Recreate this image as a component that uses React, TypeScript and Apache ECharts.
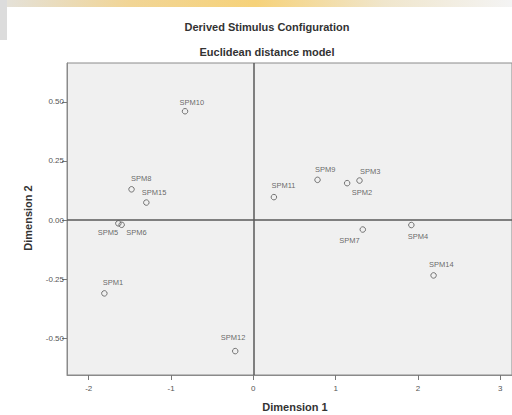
import React, { useEffect, useRef } from "react";
import * as echarts from "echarts";

const names = ["SPM10", "SPM8", "SPM15", "SPM5", "SPM6", "SPM1", "SPM12", "SPM11", "SPM9", "SPM3", "SPM2", "SPM7", "SPM4", "SPM14"];
const dim1 = [-0.83, -1.48, -1.3, -1.64, -1.6, -1.81, -0.22, 0.25, 0.78, 1.29, 1.14, 1.33, 1.92, 2.19];
const dim2 = [0.46, 0.13, 0.074, -0.014, -0.02, -0.31, -0.554, 0.097, 0.17, 0.167, 0.156, -0.04, -0.021, -0.234];
const xTicks = [-2, -1, 0, 1, 2, 3];
const yTicks = [-0.5, -0.25, 0, 0.25, 0.5];

// label offsets (px) from marker centre: [dx to label start, dy to label middle]
const labelOffsets: Record<string, [number, number]> = {
  SPM10: [-5, -8],
  SPM8: [0, -10],
  SPM15: [-4, -10],
  SPM5: [-20, 10],
  SPM6: [5, 8],
  SPM1: [-1, -10],
  SPM12: [-14, -13],
  SPM11: [-2, -11],
  SPM9: [-2, -10],
  SPM3: [1, -9],
  SPM2: [5, 10],
  SPM7: [-23, 11],
  SPM4: [-3, 12],
  SPM14: [-4, -10],
};

const FONT = "Liberation Sans, Arial, sans-serif";

export default function App() {
  const ref = useRef<HTMLDivElement>(null);
  useEffect(() => {
    if (!ref.current) return;
    const chart = echarts.init(ref.current, null, { renderer: "svg" });
    const sym = 5.5;
    const data = names.map((n, i) => {
      const o = labelOffsets[n] || [0, -10];
      return {
        name: n,
        value: [dim1[i], dim2[i]],
        label: { position: [o[0] + sym / 2, o[1] + sym / 2] },
      };
    });
    chart.setOption({
      animation: false,
      backgroundColor: "#ffffff",
      textStyle: { fontFamily: FONT },
      title: [
        {
          text: "Derived Stimulus Configuration",
          left: 267,
          top: 21,
          padding: 0,
          textAlign: "center",
          textStyle: { fontSize: 11, fontWeight: "bold", color: "#333", fontFamily: FONT },
        },
        {
          text: "Euclidean distance model",
          left: 267,
          top: 46,
          padding: 0,
          textAlign: "center",
          textStyle: { fontSize: 11, fontWeight: "bold", color: "#333", fontFamily: FONT },
        },
      ],
      graphic: [
        {
          type: "rect",
          shape: { x: 0, y: 0, width: 512, height: 7 },
          style: {
            fill: new echarts.graphic.LinearGradient(0, 0, 1, 0, [
              { offset: 0, color: "#e4e2dc" },
              { offset: 0.25, color: "#f1d596" },
              { offset: 0.5, color: "#f6d27a" },
              { offset: 0.75, color: "#f0e6cc" },
              { offset: 1, color: "#f4f4f4" },
            ]),
          },
          silent: true,
        },
        {
          type: "rect",
          shape: { x: 0, y: 0, width: 7, height: 40 },
          style: { fill: "#dcdcdc" },
          silent: true,
        },
        {
          type: "text",
          x: 28,
          y: 218,
          rotation: Math.PI / 2,
          style: {
            text: "Dimension 2",
            fontSize: 11,
            fontWeight: "bold",
            fill: "#333",
            fontFamily: FONT,
            align: "center",
            verticalAlign: "middle",
          },
        },
        {
          type: "text",
          x: 295,
          y: 407,
          style: {
            text: "Dimension 1",
            fontSize: 11,
            fontWeight: "bold",
            fill: "#333",
            fontFamily: FONT,
            align: "center",
            verticalAlign: "middle",
          },
        },
      ],
      grid: {
        left: 67,
        top: 63,
        right: 0,
        bottom: 40,
        show: true,
        backgroundColor: "#f0f0f0",
        borderColor: "#8a8a8a",
        borderWidth: 1,
      },
      xAxis: {
        type: "value",
        min: -2.264,
        max: 3.143,
        axisLine: { show: true, onZero: false, lineStyle: { color: "#8a8a8a" } },
        splitLine: { show: false },
        axisTick: { show: true, customValues: xTicks, length: 5, lineStyle: { color: "#777" } },
        axisLabel: {
          customValues: xTicks,
          fontSize: 8,
          color: "#555",
          margin: 9,
          fontFamily: FONT,
          formatter: (v: number) => String(v),
        },
      },
      yAxis: {
        type: "value",
        min: -0.655,
        max: 0.664,
        axisLine: { show: true, onZero: false, lineStyle: { color: "#8a8a8a" } },
        splitLine: { show: false },
        axisTick: { show: true, customValues: yTicks, length: 5, lineStyle: { color: "#777" } },
        axisLabel: {
          customValues: yTicks,
          fontSize: 8,
          color: "#555",
          margin: 3,
          fontFamily: FONT,
          formatter: (v: number) => v.toFixed(2),
        },
      },
      series: [
        {
          type: "scatter",
          symbol: "circle",
          symbolSize: sym,
          data,
          itemStyle: { color: "rgba(0,0,0,0)", borderColor: "#555", borderWidth: 1 },
          label: {
            show: true,
            formatter: "{b}",
            fontSize: 7.5,
            color: "#444",
            fontFamily: FONT,
            align: "left",
            verticalAlign: "middle",
          },
          emphasis: { disabled: true },
          markLine: {
            silent: true,
            symbol: "none",
            label: { show: false },
            lineStyle: { color: "#5a5a5a", width: 1.5, type: "solid" },
            data: [{ xAxis: 0 }, { yAxis: 0 }],
          },
        },
      ],
    });
    return () => chart.dispose();
  }, []);
  return (
    <div
      ref={ref}
      style={{ position: "absolute", left: 0, top: 0, width: 512, height: 415, overflow: "hidden" }}
    />
  );
}
